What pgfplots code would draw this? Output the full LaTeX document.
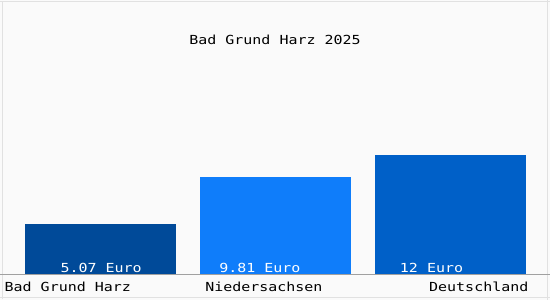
\documentclass[border=0pt]{standalone}
\usepackage{pgfplots}
\pgfplotsset{compat=1.18}
\usepackage{fontspec}
\setmainfont{DejaVu Sans Mono}[FakeStretch=1.2]
\definecolor{bgc}{RGB}{250,250,250}
\definecolor{barA}{RGB}{0,74,153}
\definecolor{barB}{RGB}{15,125,250}
\definecolor{barC}{RGB}{0,96,200}
\definecolor{axc}{RGB}{160,160,160}
\definecolor{frm}{RGB}{225,225,225}
\begin{document}
\begin{tikzpicture}[x=1pt,y=1pt]
\fill[bgc] (0,0) rectangle (550,300);
\draw[frm,line width=0.8pt] (1.5,0.5) -- (1.5,299.5);
\draw[frm,line width=0.8pt] (0,298.5) -- (550,298.5);
\draw[frm,line width=0.8pt] (548,0) -- (548,300);
\draw[frm,line width=0.8pt] (0,2) -- (550,2);
\begin{axis}[
  at={(0pt,25pt)}, anchor=south west,
  scale only axis, width=550pt, height=250pt,
  xmin=-0.5743, xmax=2.5686, ymin=0, ymax=25,
  axis lines=none, ticks=none, clip=false,
  ybar, bar width=151pt, bar shift=0pt,
]
\addplot[fill=barA, draw=none] coordinates {(0,5.07)};
\addplot[fill=barB, draw=none] coordinates {(1,9.81)};
\addplot[fill=barC, draw=none] coordinates {(2,12)};
\end{axis}
\draw[axc, line width=1pt] (0,25) -- (550,25);
\node[font=\fontsize{12.5}{14}\selectfont, anchor=base] at (275,256) {Bad Grund Harz 2025};
\node[font=\fontsize{12.5}{14}\selectfont, anchor=base west, inner sep=0pt] at (4,8) {Bad Grund Harz};
\node[font=\fontsize{12.5}{14}\selectfont, anchor=base west, inner sep=0pt] at (205,8) {Niedersachsen};
\node[font=\fontsize{12.5}{14}\selectfont, anchor=base east, inner sep=0pt] at (529,8) {Deutschland};
\node[font=\fontsize{12.5}{14}\selectfont, text=white, anchor=base west, inner sep=0pt] at (60,27) {5.07 Euro};
\node[font=\fontsize{12.5}{14}\selectfont, text=white, anchor=base west, inner sep=0pt] at (219,27) {9.81 Euro};
\node[font=\fontsize{12.5}{14}\selectfont, text=white, anchor=base west, inner sep=0pt] at (400,27) {12 Euro};
\end{tikzpicture}
\end{document}
